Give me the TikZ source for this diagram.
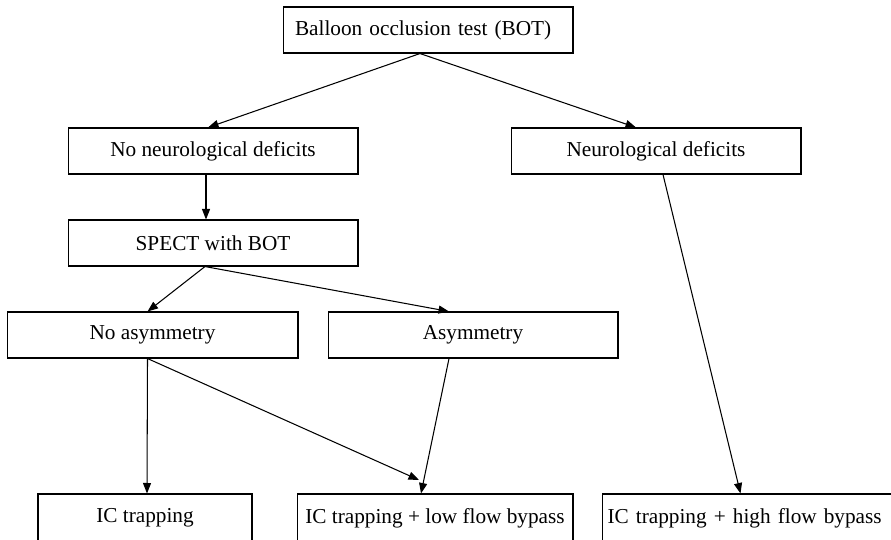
\documentclass[tikz,border=0pt]{standalone}
\usepackage{fontspec}
\setmainfont{Liberation Serif}
\usepackage{tikz}
\usetikzlibrary{arrows.meta,positioning,calc}

\begin{document}
\begin{tikzpicture}[
  x=0.02cm,y=-0.02cm,
  box/.style={draw,line width=0.6pt,minimum height=0.92cm,inner xsep=0.1cm,align=center,font=\fontsize{12.1}{14}\selectfont},
  lbox/.style={box,align=left},
  arrow/.style={-{Triangle[length=0.21cm,width=0.16cm]},line width=0.6pt}
]
\useasboundingbox (0,0) rectangle (891,539);
% top of the tree
\node[lbox,inner xsep=0.24cm,text width=5.32cm] (bot) at (428,30) {Balloon occlusion test (BOT)};
\node[box,minimum width=5.8cm] (noneuro) at (213,151) {No neurological deficits};
\node[box,minimum width=5.8cm] (neuro) at (656,151) {Neurological deficits};
\node[box,minimum width=5.8cm] (spect) at (213,243) {SPECT with BOT};
\node[box,minimum width=5.82cm] (noasym) at (152.5,335) {No asymmetry};
\node[box,minimum width=5.8cm] (asym) at (473,335) {Asymmetry};
% treatments (cut by the page edge)
\node[box,minimum width=4.28cm,minimum height=0.96cm] (ictrap) at (145,518) {IC trapping};
\node[box,minimum width=5.52cm,minimum height=0.96cm] (iclow) at (435,518) {IC trapping + low flow bypass};
\node[lbox,anchor=west,text width=5.8cm,minimum height=0.96cm] (ichigh) at (602,518) {IC trapping + high flow bypass};
\coordinate (meet) at (419,480);

\draw[arrow] ($(bot.south)+(-8,0)$) -- ($(noneuro.north)+(-5,0)$);
\draw[arrow] ($(bot.south)+(-8,0)$) -- ($(neuro.north)+(-20,0)$);
\draw[arrow] ($(noneuro.south)+(-7,0)$) -- ($(spect.north)+(-7,0)$);
\draw[arrow] ($(spect.south)+(-8,0)$) -- ($(noasym.north)+(-5,0)$);
\draw[arrow] ($(spect.south)+(-8,0)$) -- ($(asym.north)+(-24,0)$);
\draw[arrow] ($(noasym.south)+(-5,0)$) -- ($(ictrap.north)+(2,0)$);
\draw[arrow] ($(noasym.south)+(-5,0)$) -- (meet);
\draw[arrow] ($(asym.south)+(-24,0)$) -- ($(iclow.north)+(-14,0)$);
\draw[arrow] ($(neuro.south)+(7,0)$) -- ($(ichigh.north)+(-12,0)$);
\end{tikzpicture}
\end{document}
